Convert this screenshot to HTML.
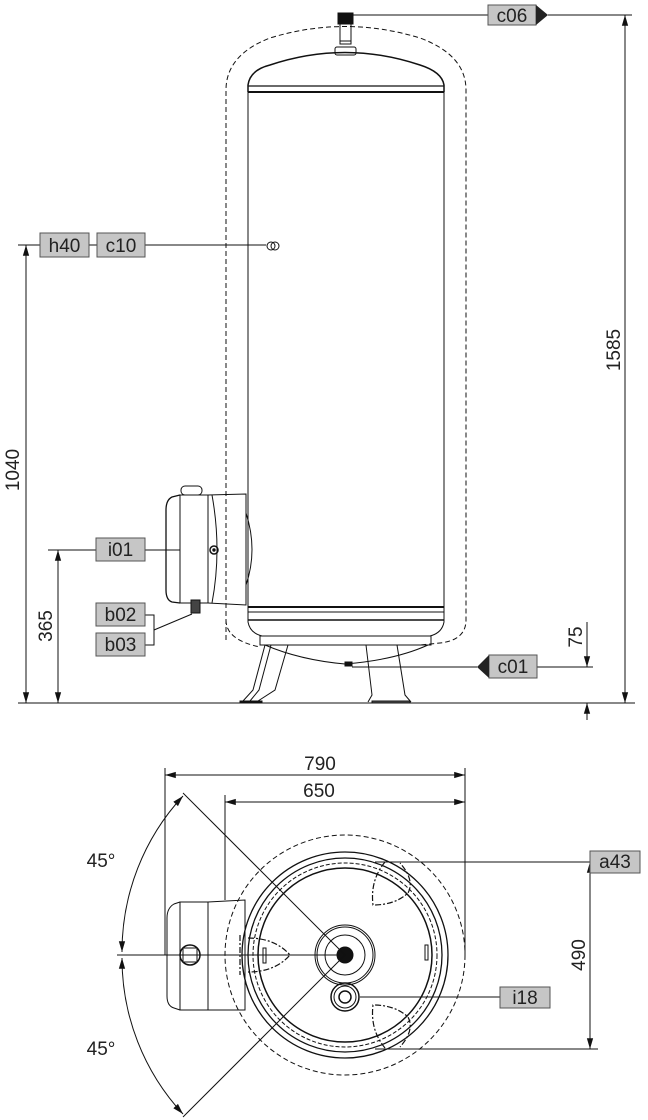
<!DOCTYPE html>
<html><head><meta charset="utf-8"><style>
html,body{margin:0;padding:0;background:#fff}
svg{display:block}
text{font-family:"Liberation Sans",Arial,sans-serif;fill:#222}
.l{fill:#c6c6c6;stroke:#555;stroke-width:1}
</style></head><body>
<svg width="648" height="1120" viewBox="0 0 648 1120" xmlns="http://www.w3.org/2000/svg">
<defs>
<marker id="a" viewBox="0 0 12 10" refX="12" refY="5" markerWidth="12" markerHeight="9" orient="auto-start-reverse" markerUnits="userSpaceOnUse"><path d="M0,1.5 L12,5 L0,8.5Z" fill="#111"/></marker>
</defs>
<g fill="none" stroke="#111" stroke-width="1">
<path d="M226,640 L226,90 Q226,55 270,38 Q345,15 420,38 Q466,55 466,90 L466,620 Q466,640 440,643 L420,645" stroke-dasharray="5,3"/>
<path d="M226,620 Q226,640 260,647" stroke-dasharray="5,3"/>
<path d="M248,92 L248,85 Q250,70 270,65 Q345,40 420,65 Q442,72 444,85 L444,92" stroke-width="1.5"/>
<line x1="248" y1="86" x2="444" y2="86" stroke-width="1.3"/>
<line x1="248" y1="92" x2="444" y2="92" stroke-width="2"/>
<line x1="248" y1="92" x2="248" y2="612"/>
<line x1="444" y1="92" x2="444" y2="612"/>
<line x1="248" y1="607" x2="444" y2="607" stroke-width="2"/>
<line x1="248" y1="612" x2="444" y2="612"/>
<line x1="248" y1="620" x2="444" y2="620" stroke-width="1.5"/>
<path d="M248,612 L248,622 Q250,633 262,636 L430,636 Q442,633 444,622 L444,612"/>
<rect x="260" y="636" width="171" height="9"/>
<path d="M265,645 Q300,660 345,664 Q395,660 428,645"/>
<rect x="345" y="662" width="7" height="4" fill="#111"/>
<rect x="338" y="13" width="15" height="11" fill="#111"/>
<rect x="340" y="24" width="11" height="20"/>
<line x1="340" y1="41" x2="351" y2="41"/>
<rect x="335" y="47" width="21" height="8" rx="2"/>
<path d="M265,645 L253,690 L243,701 M271,645 L259,690 L250,701"/>
<path d="M288,645 L275,690 L258,701"/>
<rect x="240" y="701" width="22" height="2" fill="#111"/>
<path d="M366,645 L372,695 L368,702 M397,645 L405,695 L411,702"/>
<rect x="372" y="701" width="38" height="2" fill="#555"/>
<circle cx="271" cy="246" r="4"/><circle cx="275" cy="246" r="4"/>
<path d="M180,495 L172,497 Q166,500 166,510 L166,590 Q166,600 172,602 L180,603" stroke-width="1.3"/>
<rect x="180" y="495" width="28" height="108"/>
<rect x="181" y="486" width="21" height="9" rx="4"/>
<path d="M208,495 L246,494 L246,605 L208,603"/>
<path d="M212,495 Q222,550 212,603"/>
<path d="M246,513 Q258,550 246,585"/>
<circle cx="214" cy="550" r="4" stroke-width="1.5"/><circle cx="214" cy="550" r="1.2" fill="#111"/>
<rect x="191" y="600" width="9" height="13" fill="#444"/>
<line x1="353" y1="15" x2="488" y2="15"/><line x1="548" y1="15" x2="632" y2="15"/>
<line x1="18" y1="245" x2="40" y2="245"/><line x1="89" y1="245" x2="97" y2="245"/><line x1="145" y1="245" x2="266" y2="245"/>
<line x1="48" y1="550" x2="96" y2="550"/><line x1="145" y1="550" x2="180" y2="550"/>
<path d="M145,615 L154,615 L154,645 L145,645 M154,630 L192,614"/>
<line x1="352" y1="667" x2="477" y2="667"/><line x1="537" y1="667" x2="593" y2="667"/>
<line x1="18" y1="703" x2="635" y2="703"/>
<line x1="625" y1="15" x2="625" y2="703" marker-start="url(#a)" marker-end="url(#a)"/>
<line x1="26" y1="245" x2="26" y2="703" marker-start="url(#a)" marker-end="url(#a)"/>
<line x1="58" y1="550" x2="58" y2="703" marker-start="url(#a)" marker-end="url(#a)"/>
<line x1="587" y1="622" x2="587" y2="667" marker-end="url(#a)"/>
<line x1="587" y1="720" x2="587" y2="703" marker-end="url(#a)"/>
<line x1="165" y1="768" x2="165" y2="955"/>
<line x1="465" y1="768" x2="465" y2="955"/>
<line x1="225" y1="795" x2="225" y2="900"/>
<line x1="165" y1="775" x2="465" y2="775" marker-start="url(#a)" marker-end="url(#a)"/>
<line x1="225" y1="802" x2="465" y2="802" marker-start="url(#a)" marker-end="url(#a)"/>
<circle cx="345" cy="955" r="120" stroke-dasharray="5,3"/>
<circle cx="345" cy="955" r="103" stroke-width="1.3"/>
<circle cx="345" cy="955" r="97" stroke-width="1.3"/>
<circle cx="345" cy="955" r="92" stroke-dasharray="4,2"/>
<circle cx="345" cy="955" r="87" stroke-width="1.5"/>
<circle cx="345" cy="955" r="30"/><circle cx="345" cy="955" r="28"/>
<circle cx="345" cy="955" r="20"/>
<circle cx="345" cy="955" r="8" fill="#111"/>
<circle cx="345" cy="997" r="14" stroke-width="1.5"/><circle cx="345" cy="997" r="11"/><circle cx="345" cy="997" r="6" stroke-width="1.5"/>
<rect x="425" y="945" width="3" height="15"/>
<rect x="263" y="948" width="3" height="15"/>
<path d="M180,902 L174,904 Q167,908 167,918 L167,996 Q167,1006 174,1008 L180,1010"/>
<rect x="180" y="902" width="28" height="108"/>
<path d="M208,902 L245,900 L245,1010 L208,1010"/>
<circle cx="190" cy="955" r="10" stroke-width="1.5"/>
<rect x="183" y="948" width="14" height="14"/>
<g stroke-dasharray="6,2,2,2" stroke-width="1.2">
<path d="M385,862 Q370,880 373,905 Q395,905 408,893 Q415,880 400,863"/>
<path d="M385,1048 Q370,1030 373,1005 Q395,1005 408,1017 Q415,1030 400,1047"/>
<path d="M248,938 Q275,938 290,955 Q275,972 248,972"/>
<path d="M240,935 L240,975"/>
</g>
<line x1="117" y1="955" x2="345" y2="955"/>
<line x1="183" y1="793" x2="345" y2="955"/>
<line x1="183" y1="1117" x2="345" y2="955"/>
<path d="M183,796 A229,229 0 0 0 122,952" marker-start="url(#a)" marker-end="url(#a)"/>
<path d="M122,958 A229,229 0 0 0 183,1114" marker-start="url(#a)" marker-end="url(#a)"/>
<line x1="375" y1="862" x2="590" y2="862"/>
<line x1="375" y1="1049" x2="598" y2="1049"/>
<line x1="360" y1="997" x2="500" y2="997"/>
<line x1="590" y1="862" x2="590" y2="1049" marker-start="url(#a)" marker-end="url(#a)"/>
</g>
<g font-size="19">
<rect class="l" x="488" y="5" width="48" height="20"/><path d="M536,5 L548,15 L536,25Z" fill="#222"/>
<text x="512" y="22" text-anchor="middle">c06</text>
<rect class="l" x="40" y="233" width="49" height="24"/><text x="64.5" y="252" text-anchor="middle">h40</text>
<rect class="l" x="97" y="233" width="48" height="24"/><text x="121" y="252" text-anchor="middle">c10</text>
<rect class="l" x="96" y="538" width="49" height="23"/><text x="120.5" y="556" text-anchor="middle">i01</text>
<rect class="l" x="96" y="603" width="49" height="23"/><text x="120.5" y="621" text-anchor="middle">b02</text>
<rect class="l" x="96" y="633" width="49" height="23"/><text x="120.5" y="651" text-anchor="middle">b03</text>
<rect class="l" x="489" y="655" width="48" height="23"/><path d="M489,655 L477,667 L489,678Z" fill="#222"/>
<text x="513" y="673" text-anchor="middle">c01</text>
<rect class="l" x="590" y="851" width="50" height="22"/><text x="615" y="868" text-anchor="middle">a43</text>
<rect class="l" x="500" y="987" width="50" height="21"/><text x="525" y="1004" text-anchor="middle">i18</text>
<text transform="translate(620,350) rotate(-90)" text-anchor="middle">1585</text>
<text transform="translate(19,470) rotate(-90)" text-anchor="middle">1040</text>
<text transform="translate(52,626) rotate(-90)" text-anchor="middle">365</text>
<text transform="translate(582,637) rotate(-90)" text-anchor="middle">75</text>
<text transform="translate(585,955) rotate(-90)" text-anchor="middle">490</text>
<text x="320" y="770" text-anchor="middle">790</text>
<text x="319" y="797" text-anchor="middle">650</text>
<text x="101" y="867" text-anchor="middle">45°</text>
<text x="101" y="1055" text-anchor="middle">45°</text>
</g>
</svg>
</body></html>
